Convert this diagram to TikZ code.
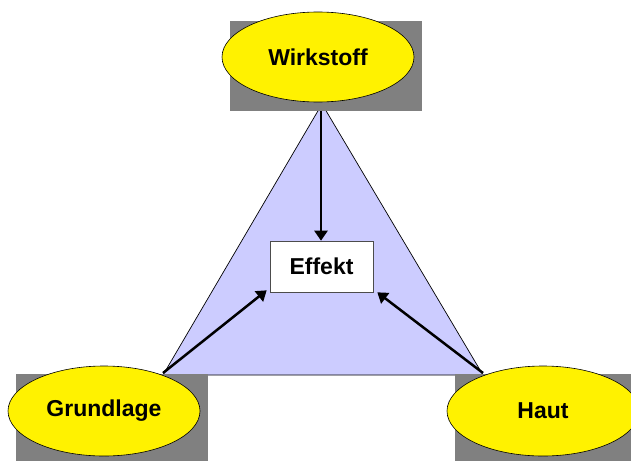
\documentclass[tikz,border=0pt]{standalone}
\usepackage{fontspec}
\setmainfont{Liberation Sans}
\usetikzlibrary{shapes.geometric,arrows.meta}
\definecolor{tri}{HTML}{CCCCFF}
\definecolor{shade}{HTML}{808080}
\tikzset{
  oval/.style={ellipse,draw=black,line width=0.6pt,fill=yellow,minimum width=192pt,minimum height=90pt,inner sep=0pt,font=\fontsize{23}{27}\selectfont\bfseries},
  shadowbox/.style={rectangle,fill=shade,minimum width=192pt,minimum height=90pt,inner sep=0pt},
  effbox/.style={rectangle,draw=black!70,line width=0.6pt,fill=white,minimum width=103pt,minimum height=51pt,inner sep=0pt,font=\fontsize{23}{27}\selectfont\bfseries},
  conn/.style={line width=2.5pt,-{Triangle[length=10pt,width=13pt]}}
}
\begin{document}
\begin{tikzpicture}[x=1pt,y=-1pt]
\useasboundingbox (0,0) rectangle (631,460);
\clip (0,0) rectangle (631,460);
\fill[white] (0,0) rectangle (631,460);
% triangle
\coordinate (ta) at (322,104);
\coordinate (tl) at (163,375);
\coordinate (tr) at (483,375);
\draw[fill=tri,line width=0.7pt] (ta) -- (tl) -- (tr) -- cycle;
% shadow rectangles
\node[shadowbox] (sw) at (326,66) {};
\node[shadowbox] (sg) at (112,419) {};
\node[shadowbox] (sh) at (551,419) {};
% ellipses
\node[oval] (w) at (318,57) {Wirkstoff};
\node[oval] (g) at (104,411) {Grundlage};
\node[oval] (h) at (543,411) {Haut};
% effect box
\node[effbox] (e) at (321.5,266.5) {Effekt};
% connectors
\coordinate (wtop) at (321,111);
\coordinate (gstart) at (163,373);
\coordinate (hstart) at (483,373);
\draw[conn] (wtop) -- (e.north -| wtop);
\draw[conn] (gstart) -- ([xshift=-3pt,yshift=2pt]e.south west);
\draw[conn] (hstart) -- ([xshift=4pt]e.south east);
\end{tikzpicture}
\end{document}
